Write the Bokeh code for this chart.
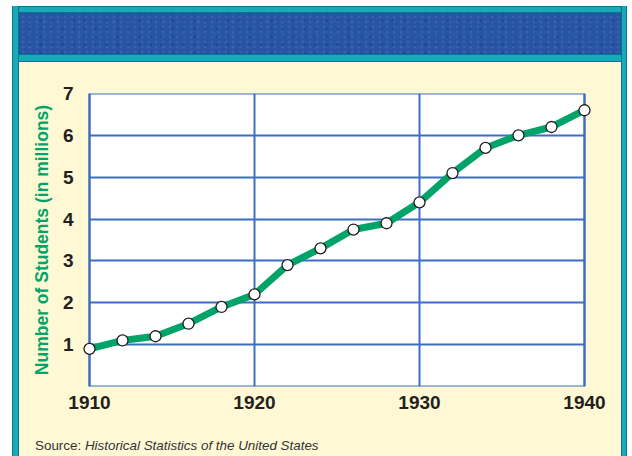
from bokeh.plotting import figure
from bokeh.layouts import column
from bokeh.models import Range1d, FixedTicker, BoxAnnotation, Div
from bokeh.embed import file_html
from bokeh.resources import INLINE

# ---- data ----
years = [1910, 1912, 1914, 1916, 1918, 1920, 1922, 1924,
         1926, 1928, 1930, 1932, 1934, 1936, 1938, 1940]
students = [0.9, 1.1, 1.2, 1.5, 1.9, 2.2, 2.9, 3.3,
            3.75, 3.9, 4.4, 5.1, 5.7, 6.0, 6.2, 6.6]
x_ticks = [1910, 1920, 1930, 1940]
y_ticks = [1, 2, 3, 4, 5, 6, 7]
y_label = "Number of Students (in millions)"
source_prefix = "Source: "
source_title = "Historical Statistics of the United States"

# ---- style ----
CREAM = "#fff8d4"
GRID_BLUE = "#3d6ec1"
GREEN = "#00a468"
TEAL = "#1ba8b8"
TEAL_DARK = "#00798a"
BANNER = "#2754a4"
INK = "#231f20"
FONT = "'Liberation Sans', Arial, sans-serif"

W, H = 632, 456
NOTE_H = 20
PAD = 8 * 30 / 495.0  # 8px of cream padding left/right of the white plot box

p = figure(width=W, height=H - NOTE_H, output_backend="svg", toolbar_location=None,
           x_range=Range1d(x_ticks[0] - PAD, x_ticks[-1] + PAD),
           y_range=Range1d(0, y_ticks[-1]),
           min_border_left=81, min_border_right=40,
           min_border_top=93, min_border_bottom=H - NOTE_H - 386)
p.outline_line_color = None
p.background_fill_color = CREAM
p.border_fill_alpha = 0

# white plot box with blue outline
p.add_layout(BoxAnnotation(left=x_ticks[0], right=x_ticks[-1], bottom=0, top=y_ticks[-1],
                           fill_color="white", fill_alpha=1,
                           line_color=GRID_BLUE, line_width=2, line_alpha=1,
                           level="image"))

# grid
p.xaxis.ticker = FixedTicker(ticks=x_ticks)
p.yaxis.ticker = FixedTicker(ticks=y_ticks)
p.xgrid.cross_bounds = (0, y_ticks[-1])
p.ygrid.cross_bounds = (x_ticks[0], x_ticks[-1])
for g in (p.xgrid, p.ygrid):
    g.grid_line_color = GRID_BLUE
    g.grid_line_width = 2
    g.grid_line_alpha = 1

# axes
for ax in (p.xaxis, p.yaxis):
    ax.axis_line_color = None
    ax.major_tick_line_color = None
    ax.minor_tick_line_color = None
    ax.major_label_text_font = FONT
    ax.major_label_text_font_style = "bold"
    ax.major_label_text_font_size = "19px"
    ax.major_label_text_color = INK
p.xaxis.major_label_standoff = 3
p.yaxis.major_label_standoff = 2
p.yaxis.axis_label = y_label
p.yaxis.axis_label_text_font = FONT
p.yaxis.axis_label_text_font_style = "bold"
p.yaxis.axis_label_text_font_size = "17.5px"
p.yaxis.axis_label_text_color = GREEN
p.yaxis.axis_label_standoff = 8

# data
p.line(years, students, line_color=GREEN, line_width=7, line_join="round")
p.scatter(years, students, size=11, fill_color="white", line_color=INK, line_width=1.3)

# source note
note = Div(text=f"{source_prefix}<i>{source_title}</i>", width=W, height=NOTE_H, margin=0,
           styles={"font-family": FONT, "font-size": "13.4px", "color": "#333333",
                   "line-height": f"{NOTE_H}px", "padding-left": "35px",
                   "box-sizing": "border-box", "white-space": "nowrap"})


def layer(color, x, y, w, h):
    return f"linear-gradient({color},{color}) {x}px {y}px / {w}px {h}px no-repeat"


# subtle mottled texture for the banner (hidden elsewhere by opaque layers above it)
texture = [
    "radial-gradient(circle at 30% 40%, rgba(120,150,215,0.30) 0, rgba(120,150,215,0) 2px) 0 0 / 7px 5px",
    "radial-gradient(circle at 70% 60%, rgba(10,30,100,0.35) 0, rgba(10,30,100,0) 2px) 0 0 / 11px 8px",
    "radial-gradient(ellipse at 50% 50%, rgba(90,120,200,0.22) 0, rgba(90,120,200,0) 3px) 3px 2px / 17px 13px",
]

background = ", ".join([
    layer("white", 0, 0, 12, H),
    layer("white", 627, 0, 5, H),
    layer("white", 0, 0, W, 6),
    layer(CREAM, 19, 62, 602, H - 62),
    layer(TEAL, 19, 55, 602, 6),
    layer(TEAL_DARK, 19, 54, 602, 8),
    layer(TEAL, 622, 6, 4, H),
    layer(TEAL_DARK, 621, 6, 6, H),
    layer(TEAL, 13, 6, 5, H),
    layer(TEAL_DARK, 12, 6, 7, H),
    layer(TEAL, 13, 7, 613, 5),
    layer(TEAL_DARK, 12, 6, 615, 7),
] + texture) + ", " + BANNER

page = column(p, note, width=W, height=H, spacing=0,
              styles={"background": background})

open("out.html", "w").write(file_html(page, INLINE))
